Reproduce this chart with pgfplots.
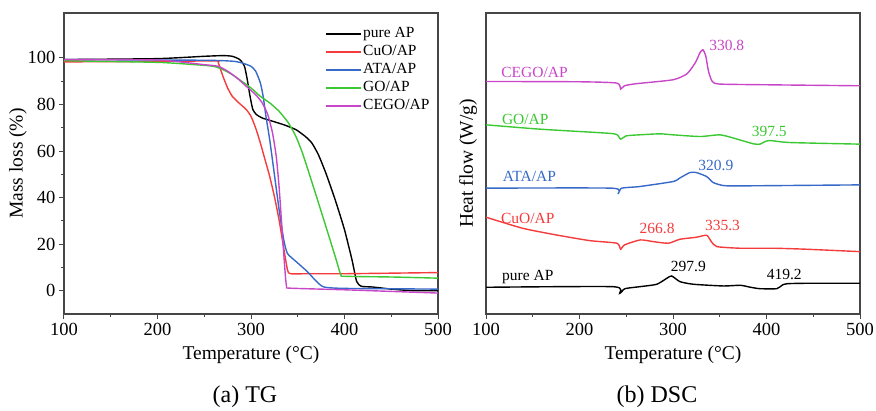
\documentclass[border=0pt]{standalone}
\usepackage{pgfplots}
\pgfplotsset{compat=1.18}
\usepackage{fontspec}
\setmainfont{Liberation Serif}
\definecolor{cred}{RGB}{245,60,60}
\definecolor{cblue}{RGB}{55,105,200}
\definecolor{cgreen}{RGB}{60,200,50}
\definecolor{cmag}{RGB}{200,70,200}
\definecolor{frame}{RGB}{70,70,70}
\newcommand{\tickfont}{\fontsize{18.5}{20}\selectfont}
\newcommand{\labfont}{\fontsize{19.5}{22}\selectfont}
\newcommand{\smfont}{\fontsize{15.5}{18}\selectfont}
\pgfplotsset{
  common/.style={
    scale only axis, width=374pt, height=301pt,
    xmin=100, xmax=500,
    xtick={100,200,...,500}, minor x tick num=1,
    tick align=outside, xtick pos=bottom, ytick pos=left,
    major tick length=5pt, minor tick length=3pt,
    axis line style={frame, line width=1.1pt},
    every tick/.style={frame, line width=1pt},
    tick label style={font=\tickfont},
    label style={font=\labfont},
    /pgf/number format/assume math mode=true,
    xlabel={Temperature (°C)},
    xlabel style={at={(axis description cs:0.5,-0.136)}, anchor=center},
    xticklabel style={yshift=-1pt},
    every axis plot/.append style={line width=1.4pt, smooth, tension=0.35},
  }
}
\begin{document}
\begin{tikzpicture}
\path[use as bounding box] (0pt,0pt) rectangle (876pt,-410pt);
% ---------- TG ----------
\begin{axis}[common, at={(64pt,-314pt)}, anchor=south west,
  ymin=-10, ymax=119.3, ytick={0,20,...,100}, minor y tick num=1,
  ylabel={Mass loss (\%)},
  ylabel style={at={(axis description cs:-0.123,0.5)}, anchor=center},
  legend style={at={(rel axis cs:0.69,0.967)}, anchor=north west, draw=none, fill=none,
    font=\smfont, row sep=0pt, nodes={inner sep=1.5pt, text height=11pt, text depth=4pt}},
  legend cell align=left,
  legend image code/.code={\draw[#1,line width=1.4pt] (0pt,0pt) -- (35pt,0pt);},
]
\addplot[black] coordinates {(100,99.3)(200,99.7)(250,100.7)(270,101)(280,100.7)(288,99.3)(293,96.4)(296,90.7)(299,83.5)(302,77.8)(306,75.6)(312,74.2)(320,73.2)(335,71.3)(348,69.2)(358,66.3)(365,63.5)(372,58.5)(380,50.6)(390,39.1)(400,26.2)(408,13.3)(413,4)(418,1.9)(430,1.6)(450,0.7)(470,0.1)(500,0)};
\addlegendentry{pure AP}
\addplot[cred] coordinates {(100,98.3)(200,98.5)(262,98.7)(265,97.9)(270,92.1)(275,87.1)(280,83.5)(287,80.7)(295,77.8)(300,74.9)(305,69.9)(310,63.5)(315,56.3)(320,49.1)(325,40.5)(330,30.5)(335,18.3)(339,9)(342,7.3)(360,7.3)(400,7.3)(500,7.8)};
\addlegendentry{CuO/AP}
\addplot[cblue] coordinates {(100,99.3)(250,99)(280,98.6)(290,97.9)(300,96.4)(305,94.3)(310,89.3)(313,83.5)(316,74.9)(320,64.9)(325,50)(330,35)(335,21.9)(339,16)(348,12.6)(360,8.3)(370,4)(378,1.6)(400,1)(500,0.7)};
\addlegendentry{ATA/AP}
\addplot[cgreen] coordinates {(100,98.8)(200,98.1)(240,97.1)(260,96.4)(270,95)(280,92.8)(290,90)(300,87.1)(310,83.5)(320,80.7)(330,77.1)(340,72.1)(348,66.3)(355,59.2)(362,50.6)(370,40.5)(380,27.7)(390,14.8)(396,6.9)(400,6.2)(450,5.9)(500,5.4)};
\addlegendentry{GO/AP}
\addplot[cmag] coordinates {(100,99.3)(200,99.1)(250,97.1)(265,96.4)(275,94.3)(285,91.4)(295,87.8)(305,84.2)(312,80.7)(318,75.6)(323,67.8)(327,57.7)(330,44.8)(333,27.7)(336,10.5)(338,1.9)(342,1.1)(400,0.4)(450,-0.3)(500,-1)};
\addlegendentry{CEGO/AP}
\end{axis}
% ---------- DSC ----------
\begin{axis}[common, at={(486pt,-314pt)}, anchor=south west,
  ymin=0, ymax=300.7, ytick=\empty,
  ylabel={Heat flow (W/g)},
  ylabel style={at={(axis description cs:-0.048,0.5)}, anchor=center},
]
\addplot[cmag] coordinates {(100,232.3)(200,232)(240,230.7)(244,224.7)(248,228)(260,230)(300,234)(315,240)(324,251.3)(329,261.3)(332,264)(335,258)(338,242.3)(342,232.3)(350,229.7)(400,229)(500,228)};
\addplot[cgreen] coordinates {(100,189)(157,184.7)(229,180.7)(240,179.3)(244,174.7)(250,178)(264,179)(286,180)(300,179)(329,177.3)(350,179)(365,175.7)(386,170)(393,169.7)(398.5,172.3)(404,173.3)(425,171.3)(500,169.7)};
\addplot[cblue] coordinates {(100,125.7)(235,125.7)(241,120)(245,125.7)(264,127.3)(300,132.3)(307,135.7)(318,141.3)(325,141.3)(336,137.3)(343,131.3)(354,128.3)(372,128)(500,129)};
\addplot[cred] coordinates {(100,96.7)(139,85.7)(175,79)(211,73.3)(240,70.7)(244,64.7)(248,69)(265,74)(279,72.3)(295,70.7)(307.5,74.7)(325,76.7)(336,78.7)(341,72.3)(347,67.3)(372,65.7)(408,65.7)(443,64.7)(500,62.3)};
\addplot[black] coordinates {(100,26.7)(236,27.3)(243,20.7)(248.6,25.3)(264.6,27.3)(282.6,29.7)(293.4,35.7)(298.6,38)(307.5,32.3)(322,29.7)(354,28)(372,28.7)(383,26.7)(393,25.3)(411,25.3)(417,29)(422.6,30.3)(443,30.7)(500,30.7)};
\begin{scope}[font=\smfont]
\node[cmag] at (axis cs:151.9,241.3) {CEGO/AP};
\node[cmag, anchor=west] at (axis cs:335,268) {330.8};
\node[cgreen] at (axis cs:142,194.7) {GO/AP};
\node[cgreen] at (axis cs:403,182.3) {397.5};
\node[cblue] at (axis cs:146.5,137.3) {ATA/AP};
\node[cblue] at (axis cs:345.8,148.3) {320.9};
\node[cred] at (axis cs:144.7,95.7) {CuO/AP};
\node[cred] at (axis cs:283,85.7) {266.8};
\node[cred] at (axis cs:353,88) {335.3};
\node[black] at (axis cs:144.7,37.3) {pure AP};
\node[black] at (axis cs:316.5,47.3) {297.9};
\node[black] at (axis cs:419,39) {419.2};
\end{scope}
\end{axis}
\node[font=\fontsize{24}{28}\selectfont] at (245pt,-397pt) {(a) TG};
\node[font=\fontsize{24}{28}\selectfont] at (657pt,-397pt) {(b) DSC};
\end{tikzpicture}
\end{document}
